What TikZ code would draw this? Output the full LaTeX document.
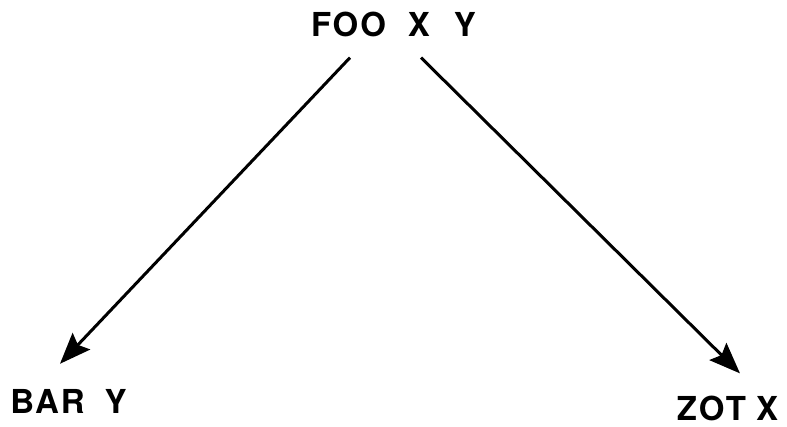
\documentclass[tikz,border=0pt]{standalone}
\usepackage{fontspec}
\newfontfamily\labelfont[LetterSpace=6]{TeX Gyre Heros}
\usetikzlibrary{arrows.meta}
\begin{document}
\begin{tikzpicture}[x=1pt, y=1pt,
    every node/.style={font=\labelfont\fontsize{33}{38}\selectfont\bfseries, inner sep=0pt},
    ar/.style={-{Stealth[length=31pt, width=24pt, inset=5pt]}, line width=3pt}]
  \useasboundingbox (0,0) rectangle (787,427);
  \node (foo) at (393.5,403) {FOO\hspace{22pt}X\hspace{24pt}Y};
  \node (bar) at (68.5,26) {BAR\hspace{20pt}Y};
  \node (zot) at (727.5,19) {ZOT\hspace{10pt}X};
  \draw[ar] ([xshift=-43.5pt, yshift=-21pt]foo.south) -- ([xshift=-8.5pt, yshift=25pt]bar.north);
  \draw[ar] ([xshift=27.5pt, yshift=-21pt]foo.south) -- ([xshift=12.5pt, yshift=22pt]zot.north);
\end{tikzpicture}
\end{document}
